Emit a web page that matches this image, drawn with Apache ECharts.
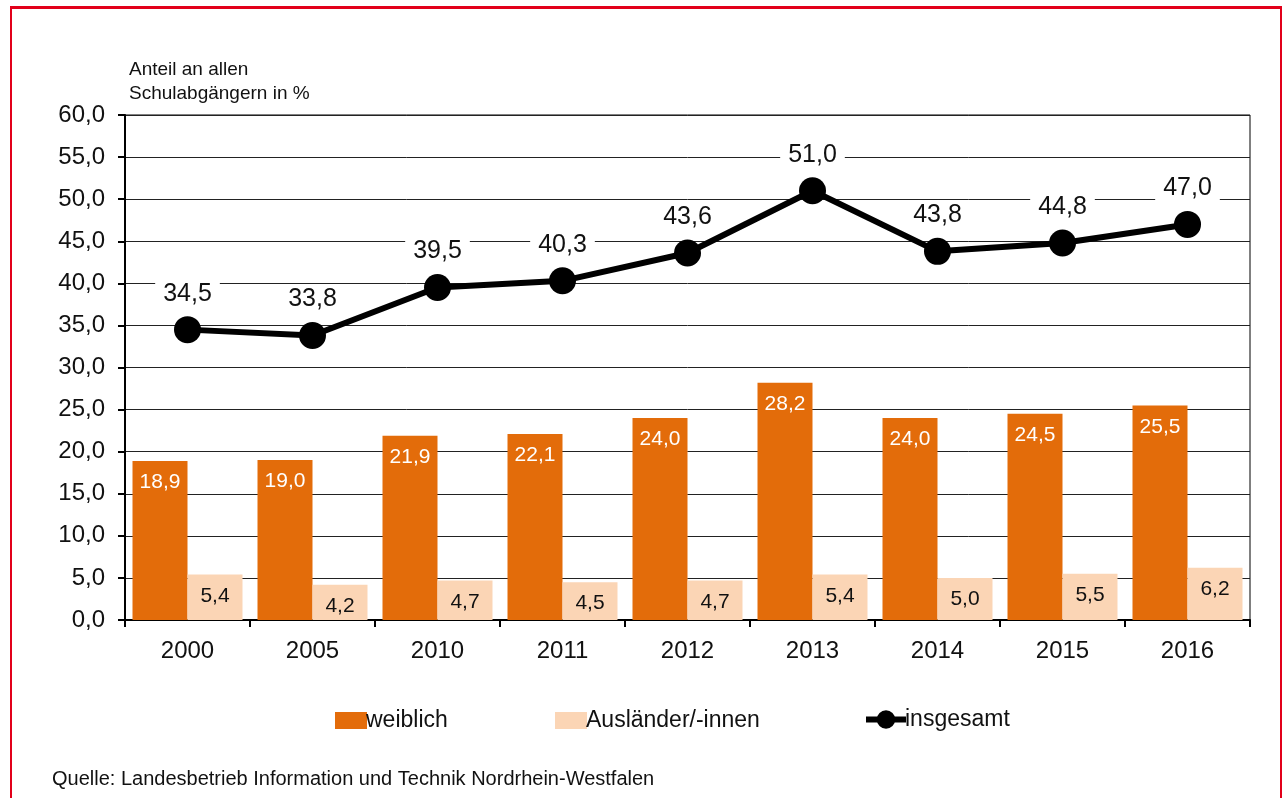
<!DOCTYPE html>
<html><head><meta charset="utf-8">
<script src="https://cdn.jsdelivr.net/npm/echarts@6/dist/echarts.min.js"></script>
<style>
html,body{margin:0;padding:0;background:#fff;}
#frame{position:absolute;left:10px;top:6px;width:1272px;height:800px;border-top:3px solid #e2001a;border-left:2px solid #e2001a;border-right:2px solid #e2001a;box-sizing:border-box;}
#c{position:absolute;left:0;top:0;width:1285px;height:798px;}
</style></head>
<body><div id="frame"></div><div id="c"></div>
<script>
const categories = ['2000','2005','2010','2011','2012','2013','2014','2015','2016'];
const weiblich = [18.9,19.0,21.9,22.1,24.0,28.2,24.0,24.5,25.5];
const auslaender = [5.4,4.2,4.7,4.5,4.7,5.4,5.0,5.5,6.2];
const insgesamt = [34.5,33.8,39.5,40.3,43.6,51.0,43.8,44.8,47.0];
const yTicks = {min:0,max:60,interval:5};

const FONT = '"Liberation Sans","Open Sans",sans-serif';
const fmt = v => v.toFixed(1).replace('.', ',');
const chart = echarts.init(document.getElementById('c'), null, {renderer:'canvas'});
const legText = {fontFamily:FONT,fontSize:23,color:'#111',padding:[0,0,0,-6]};
chart.setOption({
  animation:false,
  textStyle:{fontFamily:FONT},
  grid:{left:125,right:35,top:115,bottom:178,show:true,borderColor:'#000',borderWidth:1,backgroundColor:'transparent'},
  title:[
    {text:'Anteil an allen\nSchulabgängern in %',left:124,top:53,textStyle:{fontFamily:FONT,fontSize:19,fontWeight:'normal',color:'#111',lineHeight:24}},
    {text:'Quelle: Landesbetrieb Information und Technik Nordrhein-Westfalen',left:47,top:764,textStyle:{fontFamily:FONT,fontSize:20,fontWeight:'normal',color:'#111'}}
  ],
  legend:[
    {left:330,top:704,itemWidth:32,itemHeight:17,icon:'rect',textStyle:legText,data:['weiblich']},
    {left:550,top:704,itemWidth:32,itemHeight:17,icon:'rect',textStyle:legText,data:['Ausländer/-innen']},
    {left:858,top:703,itemWidth:40,itemHeight:23,lineStyle:{width:6},textStyle:legText,data:['insgesamt']}
  ],
  xAxis:{type:'category',data:categories,
    axisLine:{lineStyle:{color:'#000',width:2}},
    axisTick:{show:true,length:7,lineStyle:{color:'#000',width:2}},
    axisLabel:{fontFamily:FONT,fontSize:24,color:'#111',margin:19}},
  yAxis:{type:'value',min:yTicks.min,max:yTicks.max,interval:yTicks.interval,
    axisLine:{show:true,lineStyle:{color:'#000',width:2}},
    axisTick:{show:true,length:7,lineStyle:{color:'#000',width:2}},
    splitLine:{lineStyle:{color:'#222',width:1}},
    axisLabel:{fontFamily:FONT,fontSize:24,color:'#111',margin:20,formatter:v=>fmt(v)}},
  series:[
    {name:'weiblich',type:'bar',data:weiblich,barWidth:55,barGap:'0%',itemStyle:{color:'#e36c0a'},
      label:{show:true,position:'insideTop',distance:11,color:'#fff',fontFamily:FONT,fontSize:21,formatter:p=>fmt(p.value)}},
    {name:'Ausländer/-innen',type:'bar',data:auslaender,barWidth:55,itemStyle:{color:'#fbd5b5'},
      label:{show:true,position:'insideTop',distance:11,color:'#111',fontFamily:FONT,fontSize:21,formatter:p=>fmt(p.value)}},
    {name:'insgesamt',type:'line',data:insgesamt,z:5,symbol:'circle',symbolSize:27,
      lineStyle:{color:'#000',width:6},itemStyle:{color:'#000'},
      label:{show:true,position:'top',distance:8,color:'#111',fontFamily:FONT,fontSize:25,backgroundColor:'#fff',padding:[2,8],formatter:p=>fmt(p.value)}}
  ]
});
</script></body></html>
